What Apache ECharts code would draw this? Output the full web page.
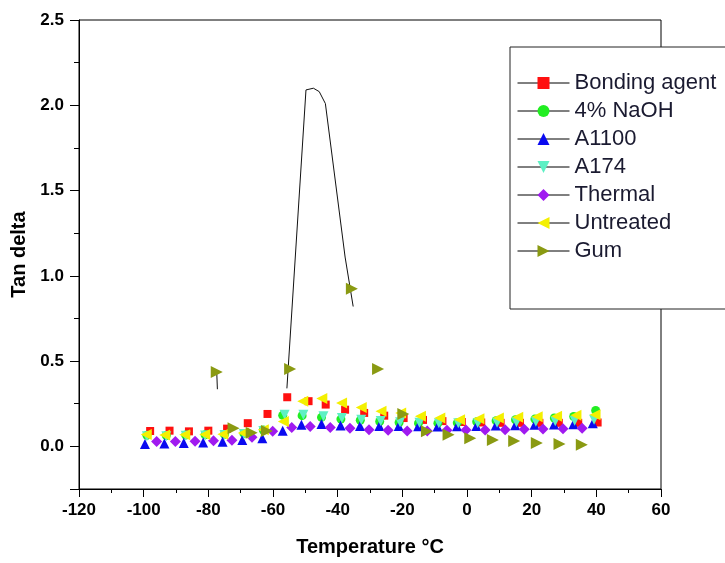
<!DOCTYPE html>
<html><head><meta charset="utf-8">
<script src="https://cdn.jsdelivr.net/npm/echarts@6/dist/echarts.min.js"></script>
<style>html,body{margin:0;padding:0;background:#fff}#c{width:725px;height:563px}</style>
</head><body><div id="c"></div>
<script>
// ---- data ----
const seriesNames = ['Bonding agent', '4% NaOH', 'A1100', 'A174', 'Thermal', 'Untreated', 'Gum'];

const bondT = [-98, -92, -86, -80, -74.2, -67.8, -61.7, -55.6, -49, -43.7, -37.7, -31.8, -25.6, -19.6, -13.6, -7.6, -1.6, 4.4, 10.4, 16.4, 22.4, 28.4, 34.4, 40.4];
const bondY = [0.09, 0.092, 0.088, 0.092, 0.104, 0.136, 0.19, 0.288, 0.265, 0.245, 0.215, 0.196, 0.18, 0.166, 0.155, 0.148, 0.143, 0.14, 0.138, 0.138, 0.138, 0.138, 0.138, 0.14];

const naohT = [-99, -93, -87, -81, -75, -69, -63, -57, -51, -45, -39, -33, -27, -21, -15, -9, -3, 3, 9, 15, 21, 27, 33, 39.8];
const naohY = [0.065, 0.064, 0.066, 0.068, 0.07, 0.076, 0.096, 0.182, 0.18, 0.17, 0.16, 0.153, 0.146, 0.14, 0.136, 0.136, 0.138, 0.144, 0.15, 0.156, 0.16, 0.166, 0.175, 0.21];

const a1100T = [-99.6, -93.6, -87.6, -81.6, -75.6, -69.5, -63.3, -57, -51.2, -45, -39.1, -33.1, -27.1, -21.1, -15.1, -9.1, -3.1, 2.9, 8.9, 14.9, 20.9, 26.9, 32.9, 38.9];
const a1100Y = [0.014, 0.017, 0.02, 0.023, 0.027, 0.038, 0.048, 0.092, 0.127, 0.131, 0.123, 0.12, 0.12, 0.12, 0.118, 0.116, 0.118, 0.12, 0.122, 0.124, 0.126, 0.128, 0.13, 0.135];

const a174T = [-99, -93, -87, -81, -75, -69, -63, -56.4, -50.6, -44.4, -38.7, -32.7, -26.7, -20.7, -14.7, -8.7, -2.7, 3.3, 9.3, 15.3, 21.3, 27.3, 33.3, 39.3];
const a174Y = [0.06, 0.06, 0.062, 0.064, 0.066, 0.072, 0.09, 0.186, 0.186, 0.176, 0.166, 0.156, 0.148, 0.142, 0.138, 0.135, 0.135, 0.137, 0.139, 0.142, 0.145, 0.147, 0.15, 0.156];

const thermalT = [-96, -90.2, -84.1, -78.4, -72.7, -66.5, -60.1, -54.2, -48.5, -42.3, -36.2, -30.3, -24.4, -18.5, -12.3, -6.2, -0.3, 5.6, 11.8, 17.7, 23.5, 29.7, 35.6];
const thermalY = [0.028, 0.028, 0.03, 0.033, 0.036, 0.053, 0.088, 0.111, 0.117, 0.111, 0.106, 0.098, 0.094, 0.09, 0.09, 0.094, 0.096, 0.096, 0.098, 0.1, 0.102, 0.104, 0.106];

const untreatedT = [-99.2, -93.5, -87.3, -81.1, -75.5, -69.2, -63, -56.8, -50.8, -44.9, -38.8, -32.7, -26.6, -20.5, -14.4, -8.4, -2.3, 3.7, 9.7, 15.7, 21.7, 27.7, 33.7, 39.6];
const untreatedY = [0.07, 0.066, 0.068, 0.07, 0.071, 0.078, 0.097, 0.146, 0.264, 0.28, 0.254, 0.228, 0.206, 0.196, 0.176, 0.166, 0.156, 0.162, 0.166, 0.17, 0.174, 0.177, 0.182, 0.186];

const gumT = [-77.4, -72.2, -66.6, -61.9, -54.7, -35.6, -27.5, -19.7, -12.4, -5.7, 1, 8, 14.6, 21.6, 28.6, 35.5];
const gumY = [0.436, 0.106, 0.08, 0.09, 0.453, 0.924, 0.453, 0.19, 0.088, 0.068, 0.048, 0.038, 0.032, 0.02, 0.014, 0.01];

// Gum connecting line (visible parts only)
const gumTailT = [-77.4, -77.2];
const gumTailY = [0.436, 0.335];
const gumPeakT = [-55.7, -49.8, -47.5, -45.7, -43.8, -37.7, -35.2];
const gumPeakY = [0.34, 2.09, 2.1, 2.08, 2.01, 1.11, 0.82];

const yTickLabels = ['0.0', '0.5', '1.0', '1.5', '2.0', '2.5'];

// ---- chart ----
const pairs = (T, Y) => T.map((t, i) => [t, Y[i]]);
const FONT = "'Liberation Sans', Arial, Helvetica, sans-serif";

function markerSeries(name, T, Y, symbol, size, color, rotate) {
  return {
    name: name, type: 'line', data: pairs(T, Y),
    symbol: symbol, symbolSize: size, symbolRotate: rotate || 0,
    itemStyle: { color: color, borderWidth: 0 },
    lineStyle: { opacity: 0, width: 1, color: '#000' },
    emphasis: { disabled: true }, animation: false
  };
}
function curveSeries(name, T, Y) {
  return {
    name: name, type: 'line', data: pairs(T, Y), symbol: 'none',
    lineStyle: { color: '#111', width: 1 }, emphasis: { disabled: true },
    animation: false, z: 1
  };
}

const axisText = { color: '#000', fontSize: 17, fontWeight: 'bold', fontFamily: FONT };
const nameText = { color: '#000', fontSize: 20, fontWeight: 'bold', fontFamily: FONT };

const option = {
  backgroundColor: '#fff',
  animation: false,
  grid: { left: 79, right: 64, top: 20, bottom: 74, show: true, borderColor: '#000', borderWidth: 1, containLabel: false },
  legend: {
    orient: 'vertical', left: 510, top: 47,
    data: seriesNames.map(n => ({ name: n })),
    itemWidth: 52, itemHeight: 15, itemGap: 6,
    padding: [25, 40, 47, 7],
    borderColor: '#222', borderWidth: 1, backgroundColor: '#fff',
    textStyle: { fontSize: 22, fontFamily: FONT, color: '#1a1a30', lineHeight: 22 },
    lineStyle: { color: '#000', width: 1, opacity: 1, type: 'solid' },
    selectedMode: false
  },
  xAxis: {
    type: 'value', min: -120, max: 60, interval: 20,
    axisLine: { show: true, onZero: false, lineStyle: { color: '#000', width: 1 } },
    axisTick: { show: true, length: 8, lineStyle: { color: '#000' } },
    minorTick: { show: true, splitNumber: 2, length: 4, lineStyle: { color: '#000' } },
    splitLine: { show: false },
    axisLabel: Object.assign({ margin: 13, showMinLabel: true, showMaxLabel: true }, axisText),
    name: 'Temperature \u00B0C', nameLocation: 'middle', nameGap: 48, nameTextStyle: nameText
  },
  yAxis: [{
    type: 'value', min: -0.25, max: 2.5, splitNumber: 5,
    axisLine: { show: true, onZero: false, lineStyle: { color: '#000', width: 1 } },
    axisTick: { show: true, length: 9, lineStyle: { color: '#000' } },
    minorTick: { show: false },
    splitLine: { show: false },
    axisLabel: Object.assign({
      margin: 15, showMinLabel: true, showMaxLabel: true,
      formatter: v => { const k = Math.round(v / 0.5); return Math.abs(v - k * 0.5) < 1e-6 && k >= 0 ? yTickLabels[k] : ''; }
    }, axisText),
    name: 'Tan delta', nameLocation: 'middle', nameGap: 44, nameRotate: 90, nameTextStyle: nameText
  }, {
    type: 'value', min: -0.25, max: 2.5, interval: 0.25, position: 'left',
    axisLine: { show: false, onZero: false },
    axisTick: { show: true, length: 5, lineStyle: { color: '#000' } },
    axisLabel: { show: false }, splitLine: { show: false }
  }],
  series: [
    curveSeries('GumTail', gumTailT, gumTailY),
    curveSeries('GumPeak', gumPeakT, gumPeakY),
    markerSeries('Bonding agent', bondT, bondY, 'rect', 8, '#FF1010'),
    markerSeries('4% NaOH', naohT, naohY, 'circle', 9, '#22EE22'),
    markerSeries('A1100', a1100T, a1100Y, 'triangle', 10, '#0A0AF0'),
    markerSeries('A174', a174T, a174Y, 'triangle', 10, '#5EF0C4', 180),
    markerSeries('Thermal', thermalT, thermalY, 'diamond', 11, '#A01AF0'),
    markerSeries('Untreated', untreatedT, untreatedY, 'triangle', 11, '#F4F000', 90),
    markerSeries('Gum', gumT, gumY, 'triangle', 12, '#8A9A12', -90)
  ]
};
const chart = echarts.init(document.getElementById('c'), null, { renderer: 'canvas' });
chart.setOption(option);
</script></body></html>
